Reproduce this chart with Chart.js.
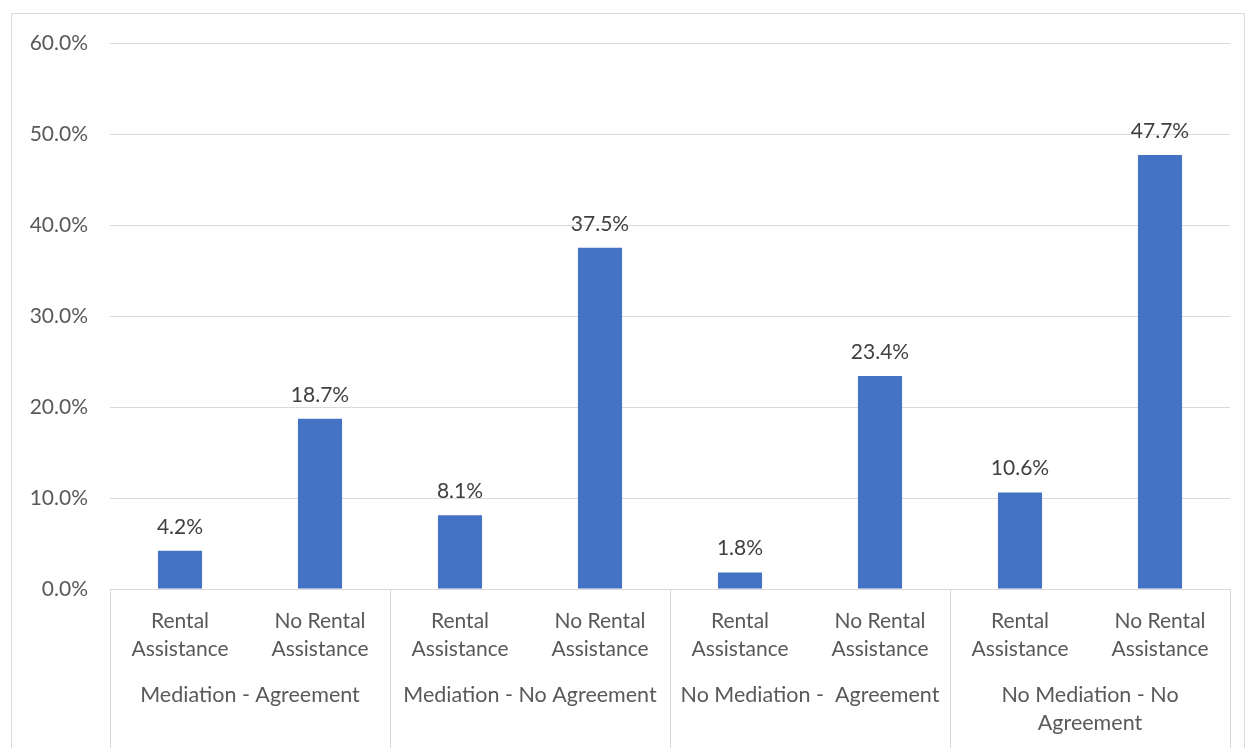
<!DOCTYPE html>
<html>
<head>
<meta charset="utf-8">
<script src="https://cdn.jsdelivr.net/npm/chart.js@4.4.0/dist/chart.umd.min.js"></script>
<style>
  html, body { margin: 0; padding: 0; background: #fff; }
  #wrap { position: relative; width: 1248px; height: 748px; }
  #frame { position: absolute; left: 11px; top: 13px; width: 1234px; height: 740px; border: 1px solid #d9d9d9; box-sizing: border-box; }
  canvas { position: absolute; left: 0; top: 0; }
</style>
</head>
<body>
<div id="wrap">
  <div id="frame"></div>
  <canvas id="chart" width="1248" height="748"></canvas>
</div>
<script>
// inner categories (two lines each)
const subLabels = [
  ['Rental', 'Assistance'], ['No Rental', 'Assistance'],
  ['Rental', 'Assistance'], ['No Rental', 'Assistance'],
  ['Rental', 'Assistance'], ['No Rental', 'Assistance'],
  ['Rental', 'Assistance'], ['No Rental', 'Assistance']
];
// outer groups, each spans two bars
const groupLabels = [
  ['Mediation - Agreement'],
  ['Mediation - No Agreement'],
  ['No Mediation -  Agreement'],
  ['No Mediation - No', 'Agreement']
];
const values = [4.2, 18.7, 8.1, 37.5, 1.8, 23.4, 10.6, 47.7];
const yTicks = [0, 10, 20, 30, 40, 50, 60];

const FONT = 'Lato, "Open Sans", sans-serif';
const TEXT = '#595959';
const LINE = '#d9d9d9';

// value labels above bars
const barLabels = {
  id: 'barLabels',
  afterDatasetsDraw(chart) {
    const ctx = chart.ctx;
    const meta = chart.getDatasetMeta(0);
    ctx.save();
    ctx.font = '21px ' + FONT;
    ctx.fillStyle = '#404040';
    ctx.textAlign = 'center';
    ctx.textBaseline = 'middle';
    meta.data.forEach((bar, i) => {
      ctx.fillText(values[i].toFixed(1) + '%', bar.x, bar.y - 24);
    });
    ctx.restore();
  }
};

// outer category row with separators
const groupAxis = {
  id: 'groupAxis',
  afterDraw(chart) {
    const ctx = chart.ctx;
    const x = chart.scales.x;
    const area = chart.chartArea;
    const perGroup = subLabels.length / groupLabels.length;
    const w = (x.right - x.left) / groupLabels.length;
    ctx.save();
    ctx.strokeStyle = LINE;
    ctx.lineWidth = 1;
    for (let g = 0; g <= groupLabels.length; g++) {
      const px = Math.round(x.left + g * w) + 0.5;
      ctx.beginPath();
      ctx.moveTo(px, area.bottom);
      ctx.lineTo(px, 748);
      ctx.stroke();
    }
    ctx.font = '21.5px ' + FONT;
    ctx.fillStyle = TEXT;
    ctx.textAlign = 'center';
    ctx.textBaseline = 'middle';
    groupLabels.forEach((lines, g) => {
      const a = x.getPixelForValue(g * perGroup);
      const b = x.getPixelForValue(g * perGroup + perGroup - 1);
      const cx = (a + b) / 2;
      lines.forEach((t, k) => ctx.fillText(t, cx, 695 + k * 28));
    });
    ctx.restore();
  }
};

new Chart(document.getElementById('chart'), {
  type: 'bar',
  data: {
    labels: subLabels,
    datasets: [{
      data: values,
      backgroundColor: '#4472c4',
      barPercentage: 0.315,
      categoryPercentage: 1
    }]
  },
  options: {
    responsive: false,
    animation: false,
    layout: { padding: { left: 0, right: 18, top: 43, bottom: 0 } },
    plugins: { legend: { display: false }, tooltip: { enabled: false } },
    scales: {
      x: {
        grid: { display: false },
        border: { display: false },
        ticks: {
          color: TEXT,
          font: { family: FONT, size: 21, lineHeight: 1.34 },
          padding: 10,
          maxRotation: 0,
          autoSkip: false
        },
        afterFit(s) { s.height = 159; }
      },
      y: {
        min: 0,
        max: 60,
        afterBuildTicks(s) { s.ticks = yTicks.map(v => ({ value: v })); },
        grid: { color: LINE, drawTicks: false },
        border: { display: false },
        ticks: {
          color: TEXT,
          font: { family: FONT, size: 21 },
          padding: 22,
          callback: v => v.toFixed(1) + '%'
        },
        afterFit(s) { s.width = 110; }
      }
    }
  },
  plugins: [barLabels, groupAxis]
});
</script>
</body>
</html>
